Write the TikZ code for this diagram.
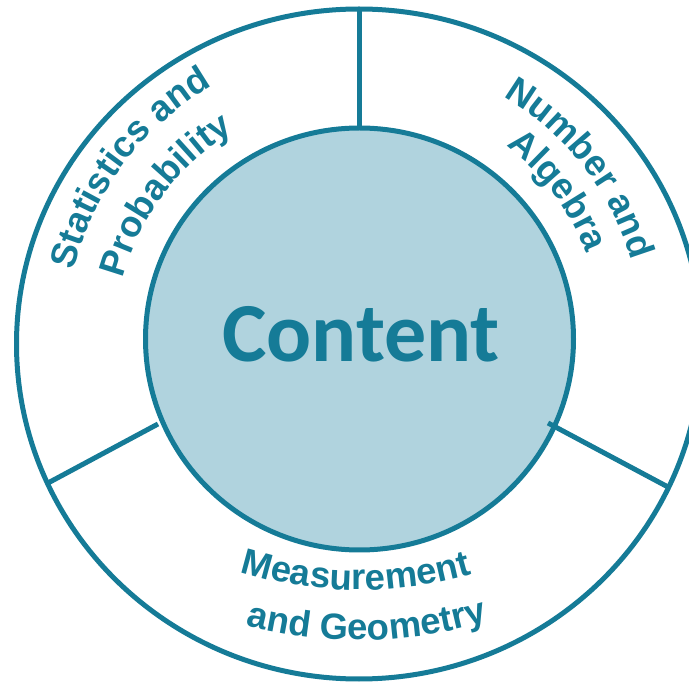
\documentclass[tikz,border=0pt]{standalone}
\usepackage{fontspec}
\setsansfont{Liberation Sans}
\newfontfamily\contentfont{Carlito}
\usetikzlibrary{decorations.text}
\definecolor{ringc}{HTML}{157B97}
\definecolor{fillc}{HTML}{B0D3DE}
\begin{document}
\begin{tikzpicture}[x=1pt,y=1pt,
  ring/.style={draw=ringc, line width=5pt},
  divider/.style={draw=ringc, line width=5pt},
  arclabel/.style={decorate, decoration={text along path, text align=center,
     text={|\sffamily\bfseries\fontsize{36.5}{36.5}\selectfont\color{ringc}|#1}}}
]
\useasboundingbox (0,0) rectangle (689,681);
\clip (0,0) rectangle (689,681);
\coordinate (O) at (359,337);
\coordinate (I) at (359.5,342);
\coordinate (C) at (359,340);
\draw[ring] (O) ellipse[x radius=342.5, y radius=335];
\fill[fillc] (I) ellipse[x radius=214, y radius=211];
\coordinate (t1) at (359,672); \coordinate (t2) at (359,553);
\coordinate (l1) at (48,198);  \coordinate (l2) at (158,257);
\coordinate (r1) at (668,194); \coordinate (r2) at (548,258);
\draw[divider] (t1) -- (t2);
\draw[divider] (l1) -- (l2);
\draw[divider] (r1) -- (r2);
\draw[ring] (I) ellipse[x radius=214, y radius=211];
\node[anchor=base, text=ringc, font=\contentfont\bfseries\fontsize{84}{84}\selectfont, inner sep=0pt] (content) at (361,319) {Content};
% upper left
\path[arclabel={Statistics and}] (C) ++(191:294) arc[start angle=191, end angle=95, radius=294];
\path[arclabel={Probability}] (C) ++(191:244) arc[start angle=191, end angle=95, radius=244];
% upper right
\path[arclabel={Number and}] (C) ++(83:284) arc[start angle=83, end angle=-7, radius=284];
\path[arclabel={Algebra}] (C) ++(82:244) arc[start angle=82, end angle=-8, radius=244];
% bottom
\coordinate (B) at (359,491);
\path[arclabel={Measurement}] (B) ++(239.5:400) arc[start angle=239.5, end angle=299.5, radius=400];
\path[arclabel={and Geometry}] (B) ++(241:450) arc[start angle=241, end angle=301, radius=450];
\end{tikzpicture}
\end{document}
